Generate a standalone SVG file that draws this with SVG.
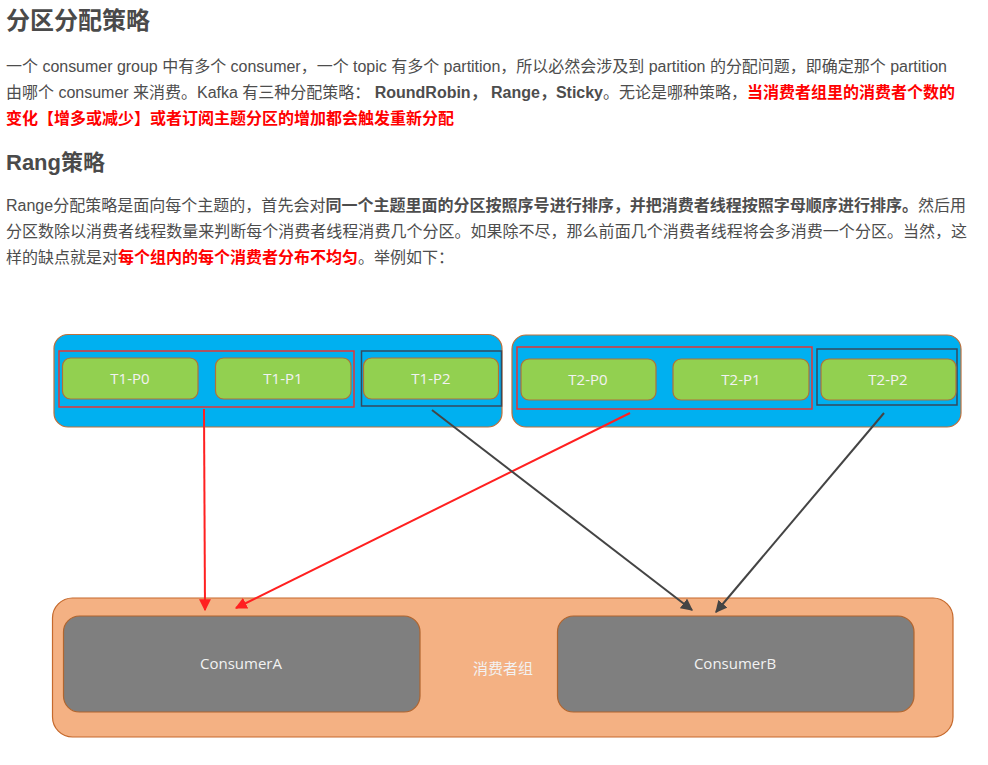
<svg xmlns="http://www.w3.org/2000/svg" width="988" height="765" viewBox="0 0 988 765">
<style>
.h{font-family:"Liberation Sans","Noto Sans CJK SC",sans-serif;font-weight:bold;fill:#4a4a4a}
.p{font-family:"Liberation Sans","Noto Sans CJK SC",sans-serif;font-size:16px;fill:#4d4d4d}
.b{font-weight:bold}
.r{font-weight:bold;fill:#ff0000}
.topic{fill:#00b0f0;stroke:#c0703a;stroke-width:1.2}
.part{fill:#92d050;stroke:#b0703a;stroke-width:1.2}
.redbox{fill:none;stroke:#e53535;stroke-width:1.5}
.darkbox{fill:none;stroke:#34495e;stroke-width:1.5}
.lbl{font-family:"Open Sans","Noto Sans CJK SC",sans-serif;font-size:15px;fill:#f2f2f2;text-anchor:middle}
.grp{fill:#f4b183;stroke:#c5692c;stroke-width:1.2}
.cons{fill:#7f7f7f;stroke:#b0652f;stroke-width:1.2}
.cr{stroke:#ff2020;stroke-width:2;fill:none}
.cd{stroke:#444;stroke-width:2;fill:none}
</style>
<defs>
<marker id="ar" viewBox="0 0 10 10" refX="9" refY="5" markerWidth="6" markerHeight="6" orient="auto"><path d="M0,0L10,5L0,10z" fill="#ff2020"/></marker>
<marker id="ad" viewBox="0 0 10 10" refX="9" refY="5" markerWidth="6" markerHeight="6" orient="auto"><path d="M0,0L10,5L0,10z" fill="#444"/></marker>
</defs>
<rect width="988" height="765" fill="#fff"/>
<text class="h" x="6" y="29" font-size="24">分区分配策略</text>
<text class="p" x="6" y="72" textLength="941">一个 consumer group 中有多个 consumer，一个 topic 有多个 partition，所以必然会涉及到 partition 的分配问题，即确定那个 partition</text>
<text class="p" x="6" y="98" textLength="949">由哪个 consumer 来消费。Kafka 有三种分配策略： <tspan class="b">RoundRobin， Range，Sticky</tspan>。无论是哪种策略，<tspan class="r">当消费者组里的消费者个数的</tspan></text>
<text class="p r" x="6" y="124">变化【增多或减少】或者订阅主题分区的增加都会触发重新分配</text>
<text class="h" x="6" y="170" font-size="22">Rang策略</text>
<text class="p" x="6" y="211" textLength="960">Range分配策略是面向每个主题的，首先会对<tspan class="b">同一个主题里面的分区按照序号进行排序，并把消费者线程按照字母顺序进行排序。</tspan>然后用</text>
<text class="p" x="6" y="237" textLength="961">分区数除以消费者线程数量来判断每个消费者线程消费几个分区。如果除不尽，那么前面几个消费者线程将会多消费一个分区。当然，这</text>
<text class="p" x="6" y="263">样的缺点就是对<tspan class="r">每个组内的每个消费者分布不均匀</tspan>。举例如下：</text>

<g id="topic1">
<rect class="topic" x="54" y="334.5" width="448" height="92.5" rx="14"/>
<rect class="redbox" x="59" y="351" width="295" height="56"/>
<rect class="darkbox" x="361.5" y="351" width="140" height="55"/>
</g>
<g id="t1p0"><rect class="part" x="62.5" y="358" width="135.5" height="41" rx="8"/><text class="lbl" x="130" y="384">T1-P0</text></g>
<g id="t1p1"><rect class="part" x="215.5" y="358" width="135.5" height="41" rx="8"/><text class="lbl" x="283" y="384">T1-P1</text></g>
<g id="t1p2"><rect class="part" x="363.5" y="358" width="135" height="41" rx="8"/><text class="lbl" x="431" y="384">T1-P2</text></g>

<g id="topic2">
<rect class="topic" x="512" y="335" width="449" height="92" rx="14"/>
<rect class="redbox" x="517" y="347" width="295" height="62"/>
<rect class="darkbox" x="817" y="349" width="140" height="56"/>
</g>
<g id="t2p0"><rect class="part" x="521" y="359" width="135" height="41" rx="8"/><text class="lbl" x="588" y="385">T2-P0</text></g>
<g id="t2p1"><rect class="part" x="673" y="359" width="136" height="41" rx="8"/><text class="lbl" x="741" y="385">T2-P1</text></g>
<g id="t2p2"><rect class="part" x="821" y="359" width="135" height="41" rx="8"/><text class="lbl" x="888" y="385">T2-P2</text></g>

<g id="group">
<rect class="grp" x="52.5" y="598" width="900.5" height="139" rx="20"/>
<text class="lbl" x="503" y="674" font-size="16">消费者组</text>
</g>
<g id="consumerA"><rect class="cons" x="63.5" y="616" width="356.5" height="96" rx="16"/><text class="lbl" x="241" y="669">ConsumerA</text></g>
<g id="consumerB"><rect class="cons" x="557.5" y="616" width="356.5" height="96" rx="16"/><text class="lbl" x="735" y="669">ConsumerB</text></g>

<g id="connectors">
<line class="cr" x1="204" y1="409" x2="205" y2="610" marker-end="url(#ar)"/>
<line class="cr" x1="630" y1="413" x2="236" y2="608" marker-end="url(#ar)"/>
<line class="cd" x1="432" y1="410" x2="692" y2="610" marker-end="url(#ad)"/>
<line class="cd" x1="884" y1="413" x2="716" y2="612" marker-end="url(#ad)"/>
</g>
</svg>
